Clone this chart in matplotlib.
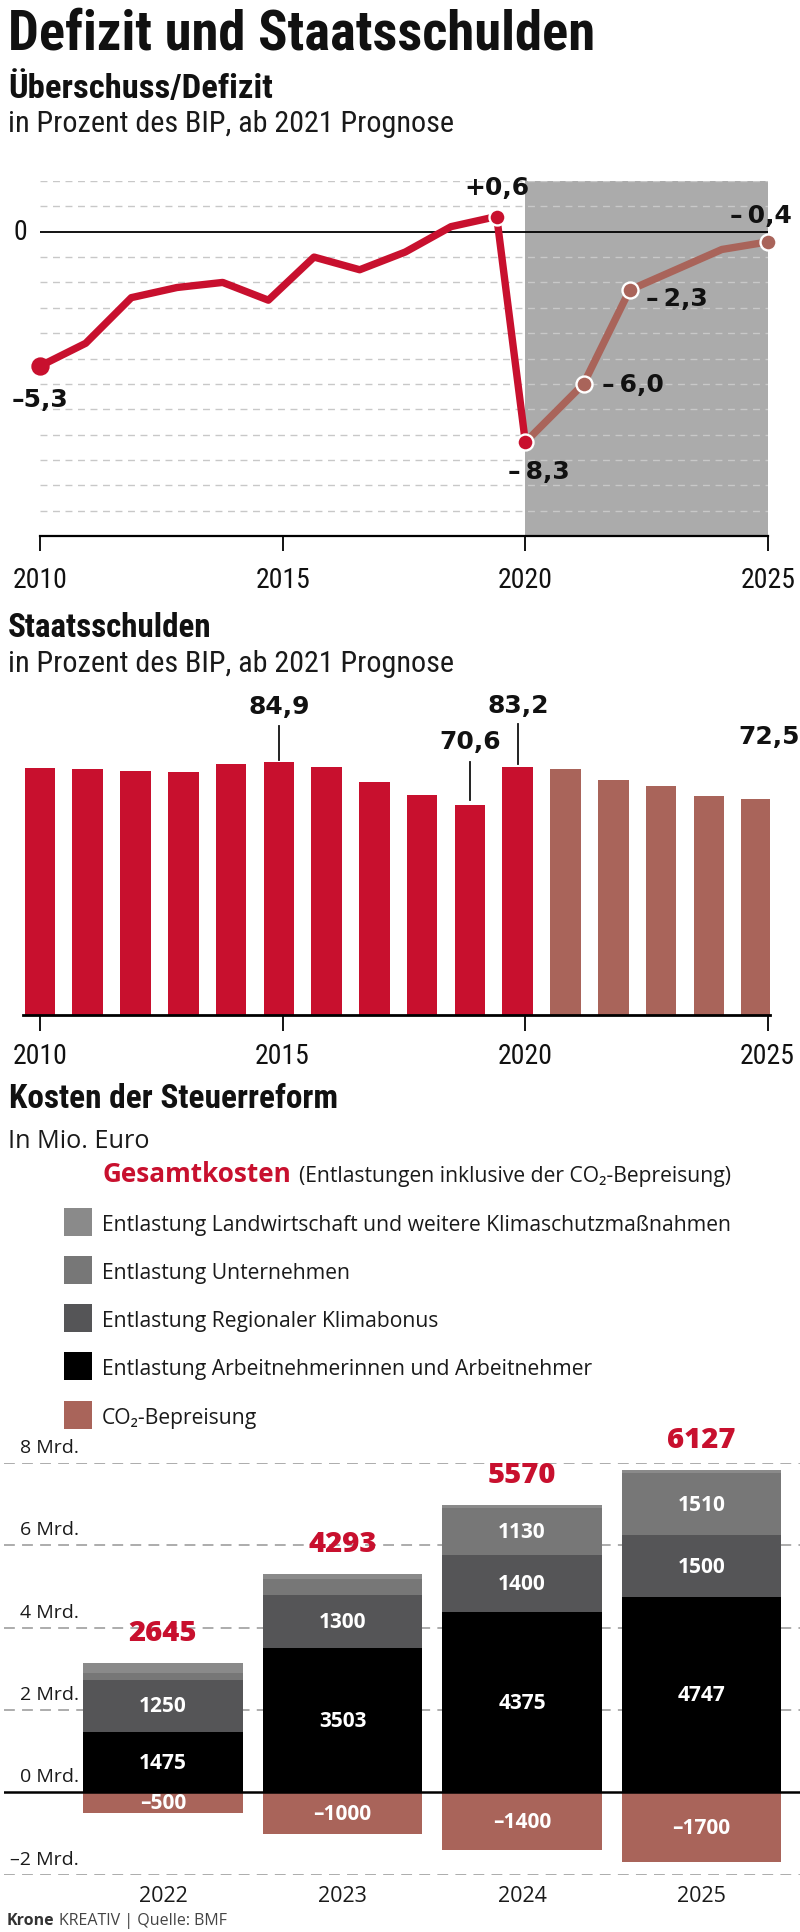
import numpy as np
import matplotlib
matplotlib.use("Agg")
import matplotlib.pyplot as plt
from matplotlib import font_manager
from matplotlib.patches import Rectangle
from matplotlib.transforms import blended_transform_factory

# --- data -------------------------------------------------------------
deficit_years = list(range(2009, 2026))
deficit = [-5.3, -4.4, -2.6, -2.2, -2.0, -2.7, -1.0, -1.5, -0.8, 0.2, 0.6,
           -8.3, -6.0, -2.3, -1.5, -0.7, -0.4]
deficit_labels = {2009: "–5,3", 2019: "+0,6", 2020: "–\u20098,3",
                  2021: "–\u20096,0", 2022: "–\u20092,3", 2025: "–\u20090,4"}

debt_years = list(range(2010, 2026))
debt = [83.0, 82.7, 82.1, 81.5, 84.3, 84.9, 83.2, 78.4, 74.0, 70.6, 83.2,
        82.6, 78.9, 76.9, 73.7, 72.5]
debt_labels = {2015: "84,9", 2019: "70,6", 2020: "83,2", 2025: "72,5"}

reform_years = ["2022", "2023", "2024", "2025"]
arbeitnehmer = [1475, 3503, 4375, 4747]
klimabonus = [1250, 1300, 1400, 1500]
unternehmen = [180, 370, 1130, 1510]
landwirtschaft = [240, 120, 65, 70]
co2 = [-500, -1000, -1400, -1700]
gesamt = [2645, 4293, 5570, 6127]

legend_names = ["Entlastung Landwirtschaft und weitere Klimaschutzmaßnahmen",
                "Entlastung Unternehmen",
                "Entlastung Regionaler Klimabonus",
                "Entlastung Arbeitnehmerinnen und Arbeitnehmer",
                "CO₂-Bepreisung"]

RED = "#c8102e"
BROWN = "#a9645a"
SHADE = "#ababab"
legend_colors = ["#8a8a8a", "#777777", "#555557", "#000000", BROWN]

# --- fonts ------------------------------------------------------------
entries = font_manager.fontManager.ttflist
names = {f.name for f in entries}

def pick(*cands):
    return next((c for c in cands if c in names), "DejaVu Sans")

def weight_of(f):
    w = f.weight
    if isinstance(w, str):
        w = font_manager.weight_dict.get(w, 400)
    return w

def pick_with_bold(*cands):
    for c in cands:
        if any(f.name == c and weight_of(f) >= 600 for f in entries):
            return c
    return "DejaVu Sans"

COND = [pick("Roboto Condensed", "Liberation Sans Narrow", "Open Sans Condensed"), "DejaVu Sans"]
NUM = ["DejaVu Sans"]
SANS = [pick_with_bold("Noto Sans", "Open Sans", "Lato", "Roboto"), "DejaVu Sans"]

W, H = 800, 1933
fig = plt.figure(figsize=(W / 100, H / 100), dpi=100)
renderer = fig.canvas.get_renderer()

def fx(px):
    return px / W

def fy(px):
    return 1 - px / H

def fit(t, width_px):
    w = t.get_window_extent(renderer).width
    t.set_fontsize(t.get_fontsize() * width_px / w)
    return t

def head(x, y, s, width, **kw):
    t = fig.text(fx(x), fy(y), s, va="baseline", ha="left", fontsize=20, **kw)
    return fit(t, width)

# --- headings ---------------------------------------------------------
head(8, 50, "Defizit und Staatsschulden", 587, family=COND, weight="heavy",
     fontstretch="condensed", color="#111111")
head(8, 97.6, "Überschuss/Defizit", 263, family=COND, weight="bold",
     fontstretch="condensed", color="#111111")
head(8, 132, "in Prozent des BIP, ab 2021 Prognose", 446, family=COND,
     fontstretch="condensed", color="#1a1a1a")
head(8, 636.7, "Staatsschulden", 204, family=COND, weight="bold",
     fontstretch="condensed", color="#111111")
head(8, 671.7, "in Prozent des BIP, ab 2021 Prognose", 446, family=COND,
     fontstretch="condensed", color="#1a1a1a")
head(9, 1108, "Kosten der Steuerreform", 327, family=COND, weight="bold",
     fontstretch="condensed", color="#111111")
head(8, 1148, "In Mio. Euro", 142, family=SANS, color="#1a1a1a")

# --- deficit line chart -----------------------------------------------
ax1 = fig.add_axes([fx(40), fy(537), 728 / W, 355 / H])
ax1.set_xlim(2010, 2025)
ax1.set_ylim(-12, 2)
ax1.axvspan(2020, 2025, color=SHADE, lw=0, zorder=0)
for v in range(-11, 3):
    if v != 0:
        ax1.axhline(v, color="#c8c8c8", lw=1, ls=(0, (5, 4)), zorder=1)
ax1.axhline(0, color="black", lw=1.3, zorder=2)

# the graphic squeezes 2009-2019 into the 2010-2019 stretch of the axis
pos = np.interp(deficit_years, [2009, 2019, 2020, 2021, 2025],
                [2010, 2019.41, 2020, 2021.2, 2025])
split = deficit_years.index(2020)
ax1.plot(pos[:split + 1], deficit[:split + 1], color=RED, lw=5.3,
         solid_joinstyle="round", zorder=3, clip_on=False)
ax1.plot(pos[split:], deficit[split:], color=BROWN, lw=5.3,
         solid_joinstyle="round", zorder=3, clip_on=False)

offsets = {2009: (0, -24, "center"), 2019: (0, 21.5, "center"),
           2020: (10, -21, "center"), 2021: (13, 0, "left"),
           2022: (12, -5.5, "left"), 2025: (-5, 19, "center")}
for yr, lab in deficit_labels.items():
    i = deficit_years.index(yr)
    col = RED if yr <= 2020 else BROWN
    mec = col if yr == 2009 else "white"
    ax1.plot(pos[i], deficit[i], "o", color=col, ms=11.5, mec=mec, mew=1.7,
             zorder=4, clip_on=False)
    dx, dy, ha = offsets[yr]
    ax1.annotate(lab, (pos[i], deficit[i]), xytext=(dx, dy),
                 textcoords="offset points", ha=ha, va="center",
                 family=NUM, weight="bold", fontsize=18, color="#111111")

for s in ["top", "left", "right"]:
    ax1.spines[s].set_visible(False)
ax1.spines["bottom"].set_linewidth(1.6)
ax1.set_yticks([])
ax1.set_xticks([2010, 2015, 2020, 2025])
ax1.tick_params(axis="x", direction="out", length=11, width=1.3, labelbottom=False)
for yr in [2010, 2015, 2020, 2025]:
    ax1.text(yr, -13.7, str(yr), ha="center", va="center", family=COND,
             fontstretch="condensed", fontsize=20, color="#111111")
ax1.text(2009.6, 0, "0", ha="center", va="center", family=COND,
         fontstretch="condensed", fontsize=20, color="#111111")

# --- debt bar chart ---------------------------------------------------
ax2 = fig.add_axes([fx(23), fy(1015.7), 747 / W, 110 * 2.973 / H])
ax2.set_xlim(2009.65, 2025.05)
ax2.set_ylim(0, 110)
bar_pos = [2010 + (y - 2010) * 0.985 for y in debt_years]
bar_cols = [RED if y <= 2020 else BROWN for y in debt_years]
ax2.bar(bar_pos, debt, width=0.63, color=bar_cols, zorder=2)

debt_marks = {2015: (103.9, 97.2, 85.8, 0), 2019: (92.2, 85.1, 72.1, 0),
              2020: (104.2, 97.7, 84.3, 0), 2025: (93.8, None, None, 0.25)}
for yr, lab in debt_labels.items():
    i = debt_years.index(yr)
    ty, l0, l1, dx = debt_marks[yr]
    ax2.text(bar_pos[i] + dx, ty, lab, ha="center", va="center", family=NUM,
             weight="bold", fontsize=18, color="#111111")
    if l0 is not None:
        ax2.plot([bar_pos[i], bar_pos[i]], [l0, l1], color="#111111", lw=1.3)

for s in ["top", "left", "right"]:
    ax2.spines[s].set_visible(False)
ax2.spines["bottom"].set_linewidth(2)
ax2.spines["bottom"].set_zorder(3)
ax2.set_yticks([])
ax2.set_xticks([2010, 2015, 2020, 2025])
ax2.tick_params(axis="x", direction="out", length=11.5, width=1.3, labelbottom=False)
for yr in [2010, 2015, 2020, 2025]:
    ax2.text(yr, -13.8, str(yr), ha="center", va="center", family=COND,
             fontstretch="condensed", fontsize=20, color="#111111")

# --- legend -----------------------------------------------------------
g = head(102, 1182, "Gesamtkosten", 189, family=SANS, weight="bold", color=RED)
gx = g.get_window_extent(renderer).x1
head(gx + 8, 1182, "(Entlastungen inklusive der CO₂-Bepreisung)", 432,
     family=SANS, color="#1a1a1a")

rows = [1223, 1271, 1319, 1367, 1416]
lsize = None
for name, col, yc in zip(legend_names, legend_colors, rows):
    fig.add_artist(Rectangle((fx(64), fy(yc + 14)), 28 / W, 28 / H,
                             transform=fig.transFigure, color=col, lw=0))
    t = fig.text(fx(102), fy(yc), name, ha="left", va="center_baseline",
                 family=SANS, fontsize=15, color="#1a1a1a")
    if lsize is None:
        fit(t, 628)
        lsize = t.get_fontsize()
    t.set_fontsize(lsize)

# --- tax reform stacked bars ------------------------------------------
ax3 = fig.add_axes([fx(4), fy(1875.8), 796 / W, 411.8 / H])
ax3.set_xlim(-0.886, 3.549)
ax3.set_ylim(-2000, 8000)
ax3.axis("off")
for v in [-2000, 2000, 4000, 6000, 8000]:
    ax3.axhline(v, color="#a6a6a6", lw=1.3, ls=(0, (6, 4)), zorder=0)

x = np.arange(len(reform_years))
bottom = np.zeros(len(x))
stack = [(arbeitnehmer, "#000000"), (klimabonus, "#555557"),
         (unternehmen, "#777777"), (landwirtschaft, "#8a8a8a")]
for vals, col in stack:
    ax3.bar(x, vals, 0.89, bottom=bottom, color=col, zorder=2)
    for xi, b, v in zip(x, bottom, vals):
        if v >= 500:
            ax3.text(xi, b + v / 2, str(v), ha="center", va="center",
                     family=SANS, weight="bold", fontsize=15, color="white", zorder=4)
    bottom = bottom + np.array(vals)
ax3.bar(x, co2, 0.89, color=BROWN, zorder=2)
for xi, v in zip(x, co2):
    ax3.text(xi, v / 2, "–" + str(abs(v)), ha="center", va="center",
             family=SANS, weight="bold", fontsize=15, color="white", zorder=4)
ax3.axhline(0, color="black", lw=1.8, zorder=5)

for xi, top, tot in zip(x, bottom, gesamt):
    ax3.annotate(str(tot), (xi, top), xytext=(0, 22), textcoords="offset points",
                 ha="center", va="center", family=SANS, weight="heavy",
                 fontsize=21, color=RED)

for xi, yr in zip(x, reform_years):
    ax3.text(xi, -2510, yr, ha="center", va="center", family=SANS,
             fontsize=15.5, color="#1a1a1a")

btr = blended_transform_factory(fig.transFigure, ax3.transData)
for v in [-2, 0, 2, 4, 6, 8]:
    lab = ("–" if v < 0 else "") + f"{abs(v)} Mrd."
    ax3.text(fx(79), v * 1000 + 390, lab, transform=btr, ha="right", va="center",
             family=SANS, fontsize=14, color="#1a1a1a")

# --- footer -----------------------------------------------------------
k = fig.text(fx(7), fy(1925), "Krone", ha="left", va="baseline", family=SANS,
             weight="bold", fontsize=11.5, color="#333333")
kx = k.get_window_extent(renderer).x1
fig.text(fx(kx + 4), fy(1925), "KREATIV | Quelle: BMF", ha="left", va="baseline",
         family=SANS, fontsize=11.5, color="#444444")

fig.savefig("out.png", dpi=100)
